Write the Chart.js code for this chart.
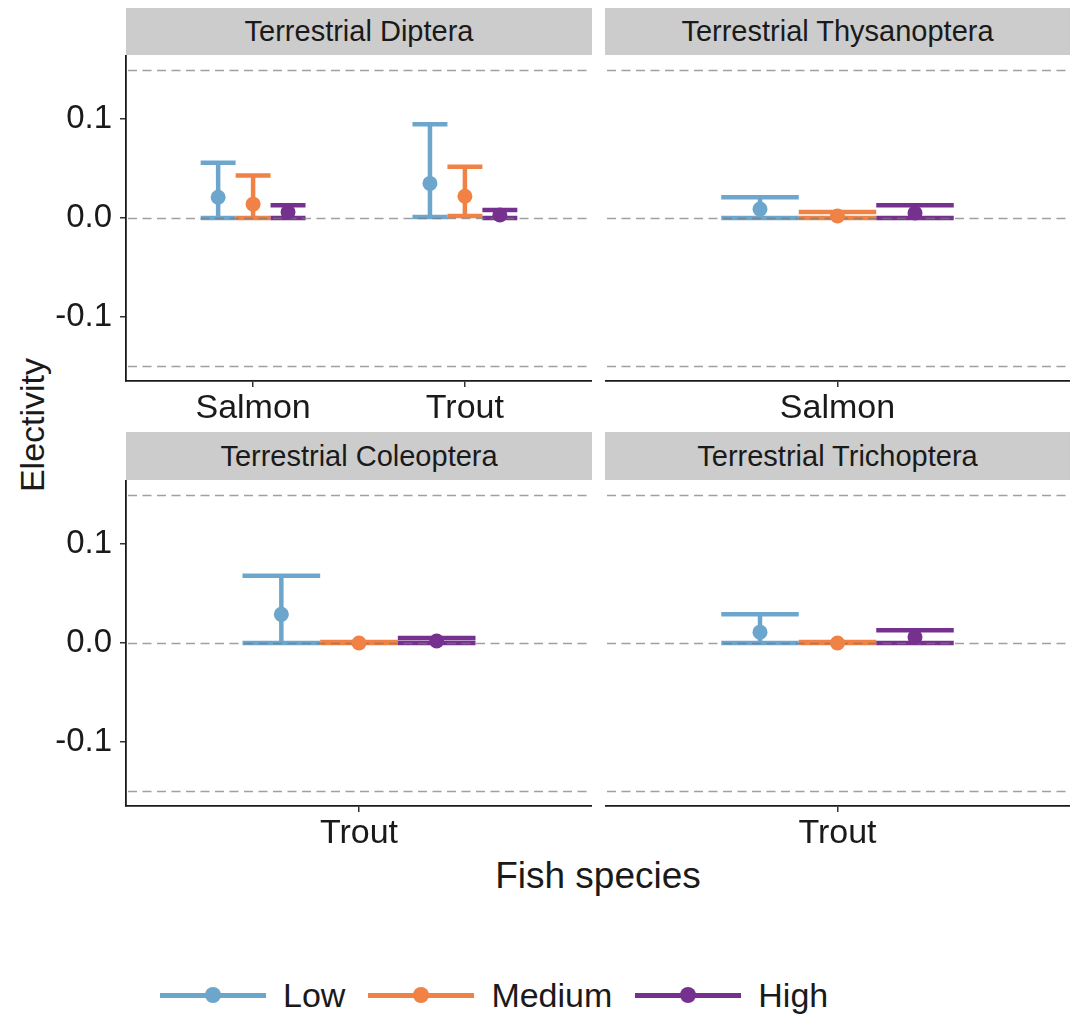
<!DOCTYPE html>
<html>
<head>
<meta charset="utf-8">
<script src="https://cdn.jsdelivr.net/npm/chart.js@4.4.1/dist/chart.umd.min.js"></script>
<style>
  html, body { margin: 0; padding: 0; background: #ffffff; }
  body {
    width: 1072px; height: 1016px; position: relative; overflow: hidden;
    font-family: "Liberation Sans", Arial, sans-serif; color: #1a1a1a;
  }
  canvas.panel { position: absolute; }
  .strip {
    position: absolute; background: #cccccc; color: #1a1a1a;
    display: flex; align-items: center; justify-content: center;
    font-size: 29px; line-height: 1;
  }
  #ytitle {
    position: absolute; left: 32px; top: 425px; font-size: 34px; line-height: 1;
    transform: translate(-50%, -50%) rotate(-90deg); white-space: nowrap;
  }
  #xtitle {
    position: absolute; left: 126px; width: 944px; top: 857px; font-size: 37px;
    line-height: 37px; text-align: center;
  }
  #legend {
    position: absolute; left: 160px; top: 975px; height: 40px;
    display: flex; align-items: center; font-size: 34px; line-height: 1;
  }
  .key { position: relative; width: 106px; height: 40px; margin-right: 17px; }
  .key .bar { position: absolute; left: 0; right: 0; top: 17.5px; height: 5px; }
  .key .dot { position: absolute; left: 45px; top: 12px; width: 16px; height: 16px; border-radius: 50%; }
  .lab { margin-right: 23px; }
</style>
</head>
<body>
<div id="ytitle">Electivity</div>
<div id="xtitle">Fish species</div>
<div id="legend"></div>

<script>
// ---- data ----
const facets = ['Terrestrial Diptera', 'Terrestrial Thysanoptera', 'Terrestrial Coleoptera', 'Terrestrial Trichoptera'];
const facetSpecies = [['Salmon', 'Trout'], ['Salmon'], ['Trout'], ['Trout']];
const levels = ['Low', 'Medium', 'High'];
const levelColors = ['#6ca6cd', '#ef8244', '#76318f'];

// mean electivity per facet (one value per fish species in the facet)
const lowMean    = [[0.021, 0.035], [0.009], [0.029], [0.011]];
const mediumMean = [[0.014, 0.022], [0.002], [0.000], [0.000]];
const highMean   = [[0.006, 0.003], [0.005], [0.002], [0.006]];

// error bar bounds
const lowLower    = [[0.000, 0.001], [0.000], [0.000], [0.000]];
const lowUpper    = [[0.056, 0.095], [0.021], [0.068], [0.029]];
const mediumLower = [[0.000, 0.002], [0.000], [0.000], [0.000]];
const mediumUpper = [[0.043, 0.052], [0.006], [0.001], [0.001]];
const highLower   = [[0.000, 0.000], [0.000], [0.000], [0.000]];
const highUpper   = [[0.013, 0.008], [0.013], [0.005], [0.013]];

const yTicks = [-0.1, 0.0, 0.1];
const refLines = [0.15, 0, -0.15];

// ---- layout ----
const FONT = '"Liberation Sans", Arial, sans-serif';
const colLeft = [126, 605];
const colWidth = [466, 465];
const rowStripTop = [8, 432];
const rowPlotTop = [55, 480];
const plotHeight = 326;
const axisBand = 60;
const yAxisWidth = 126;

const means = [lowMean, mediumMean, highMean];
const lowers = [lowLower, mediumLower, highLower];
const uppers = [lowUpper, mediumUpper, highUpper];

// error bars and dashed reference lines, drawn below the points
const errorBarPlugin = {
  id: 'errorBars',
  beforeDatasetsDraw(chart) {
    const { ctx, chartArea } = chart;
    const xs = chart.scales.x, ys = chart.scales.y;
    ctx.save();
    ctx.lineCap = 'butt';
    chart.data.datasets.forEach(ds => {
      ctx.strokeStyle = ds.backgroundColor;
      ctx.lineWidth = 4.5;
      ds.data.forEach((pt, i) => {
        const px = xs.getPixelForValue(pt.x);
        const half = (xs.getPixelForValue(pt.x + ds.capWidth / 2) - px);
        const yl = ys.getPixelForValue(ds.errLow[i]);
        const yh = ys.getPixelForValue(ds.errHigh[i]);
        ctx.beginPath();
        ctx.moveTo(px, yl); ctx.lineTo(px, yh);
        ctx.moveTo(px - half, yl); ctx.lineTo(px + half, yl);
        ctx.moveTo(px - half, yh); ctx.lineTo(px + half, yh);
        ctx.stroke();
      });
    });
    ctx.setLineDash([9, 5.5]);
    ctx.strokeStyle = 'rgba(120,120,120,0.7)';
    ctx.lineWidth = 1.5;
    refLines.forEach(v => {
      const py = Math.round(ys.getPixelForValue(v)) + 0.5;
      ctx.beginPath();
      ctx.moveTo(chartArea.left + 2, py);
      ctx.lineTo(chartArea.right, py);
      ctx.stroke();
    });
    ctx.restore();
  }
};

function makePanel(idx) {
  const row = Math.floor(idx / 2), col = idx % 2;
  const cats = facetSpecies[idx];
  const step = cats.length > 1 ? 0.165 : 0.2;
  const showY = col === 0;

  // strip header
  const strip = document.createElement('div');
  strip.className = 'strip';
  strip.textContent = facets[idx];
  Object.assign(strip.style, {
    left: colLeft[col] + 'px', top: rowStripTop[row] + 'px',
    width: colWidth[col] + 'px', height: (rowPlotTop[row] - rowStripTop[row]) + 'px'
  });
  document.body.appendChild(strip);

  const canvas = document.createElement('canvas');
  canvas.className = 'panel';
  const left = showY ? colLeft[col] - yAxisWidth : colLeft[col];
  const width = showY ? colWidth[col] + yAxisWidth : colWidth[col];
  canvas.width = width;
  canvas.height = plotHeight + axisBand;
  Object.assign(canvas.style, {
    left: left + 'px', top: rowPlotTop[row] + 'px',
    width: width + 'px', height: (plotHeight + axisBand) + 'px'
  });
  document.body.appendChild(canvas);

  const datasets = levels.map((lv, g) => ({
    label: lv,
    data: cats.map((c, i) => ({ x: i + 1 + (g - 1) * step, y: means[g][idx][i] })),
    errLow: lowers[g][idx],
    errHigh: uppers[g][idx],
    capWidth: step,
    backgroundColor: levelColors[g],
    borderWidth: 0,
    pointRadius: 7.5,
    pointHoverRadius: 7.5,
    clip: false
  }));

  new Chart(canvas, {
    type: 'scatter',
    data: { datasets },
    plugins: [errorBarPlugin],
    options: {
      responsive: false,
      animation: false,
      devicePixelRatio: 1,
      events: [],
      layout: { padding: 0, autoPadding: false },
      plugins: { legend: { display: false }, tooltip: { enabled: false } },
      scales: {
        x: {
          type: 'linear',
          min: 0.4,
          max: cats.length + 0.6,
          afterBuildTicks: s => { s.ticks = cats.map((c, i) => ({ value: i + 1 })); },
          ticks: {
            callback: v => cats[Math.round(v) - 1],
            font: { family: FONT, size: 34 },
            color: '#1a1a1a',
            padding: 1,
            maxRotation: 0,
            autoSkip: false
          },
          grid: { drawOnChartArea: false, drawTicks: true, tickLength: 6, color: '#333333', lineWidth: 1.5 },
          border: { display: true, color: '#1a1a1a', width: 1.8 },
          afterFit: s => { s.height = axisBand; s.paddingLeft = 0; s.paddingRight = 0; }
        },
        y: {
          type: 'linear',
          min: -0.165,
          max: 0.165,
          display: showY,
          afterBuildTicks: s => { s.ticks = yTicks.map(v => ({ value: v })); },
          ticks: {
            callback: v => v.toFixed(1),
            font: { family: FONT, size: 33 },
            color: '#1a1a1a',
            padding: 8
          },
          grid: { drawOnChartArea: false, drawTicks: true, tickLength: 6, color: '#333333', lineWidth: 1.5 },
          border: { display: true, color: '#1a1a1a', width: 1.8 },
          afterFit: s => {
            if (showY) s.width = yAxisWidth;
            s.paddingTop = 0; s.paddingBottom = 0;
          }
        }
      }
    }
  });
}

facets.forEach((f, i) => makePanel(i));

// legend
const legend = document.getElementById('legend');
levels.forEach((lv, g) => {
  const key = document.createElement('div');
  key.className = 'key';
  key.innerHTML = '<div class="bar"></div><div class="dot"></div>';
  key.querySelector('.bar').style.background = levelColors[g];
  key.querySelector('.dot').style.background = levelColors[g];
  const lab = document.createElement('div');
  lab.className = 'lab';
  lab.textContent = lv;
  legend.appendChild(key);
  legend.appendChild(lab);
});
</script>
</body>
</html>
